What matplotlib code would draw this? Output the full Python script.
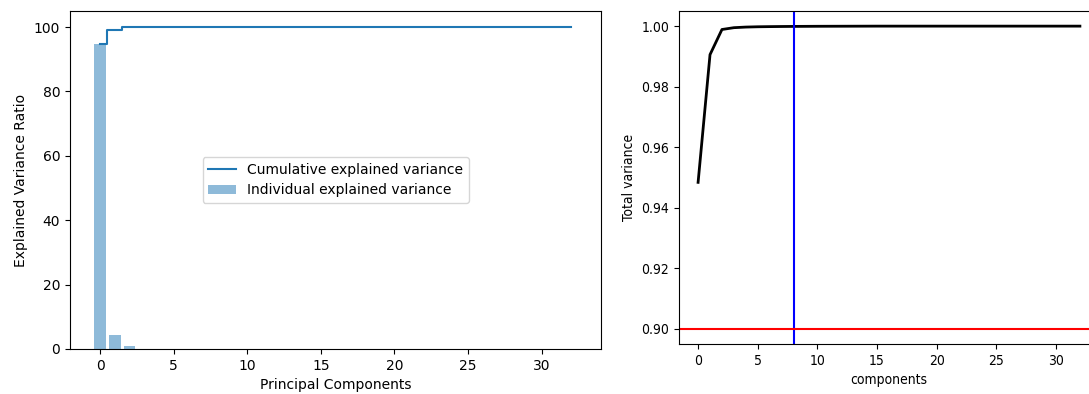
import numpy as np
import matplotlib.pyplot as plt

# explained variance (%) per principal component
components = list(range(33))
individual = [94.85, 4.22, 0.83, 0.06, 0.02, 0.01, 0.005, 0.004, 0.003, 0.002,
              0.002, 0.001, 0.001, 0.001, 0.001, 0.001, 0.0, 0.0, 0.0, 0.0,
              0.0, 0.0, 0.0, 0.0, 0.0, 0.0, 0.0, 0.0, 0.0, 0.0,
              0.0, 0.0, 0.0]
cumulative = np.cumsum(individual)
cumulative = cumulative / cumulative[-1] * 100
total_ratio = cumulative / 100
n_chosen = 8
threshold = 0.90

fig = plt.figure(figsize=(10.89, 3.94), dpi=100)

ax1 = fig.add_axes([70 / 1089, 45 / 394, 531 / 1089, 338 / 394])
ax1.bar(components, individual, alpha=0.5, align='center',
        label='Individual explained variance')
ax1.step(components, cumulative, where='mid',
         label='Cumulative explained variance')
ax1.set_ylabel('Explained Variance Ratio')
ax1.set_xlabel('Principal Components')
ax1.legend(loc='center')

ax2 = fig.add_axes([679 / 1089, 50 / 394, 420 / 1089, 333 / 394])
ax2.plot(components, total_ratio, color='k', lw=2)
ax2.axvline(n_chosen, color='b')
ax2.axhline(threshold, color='r')
ax2.set_xlabel('components', stretch='condensed')
ax2.set_ylabel('Total variance', stretch='condensed')
for lab in ax2.get_xticklabels() + ax2.get_yticklabels():
    lab.set_fontstretch('condensed')

fig.savefig('out.png', dpi=100)
